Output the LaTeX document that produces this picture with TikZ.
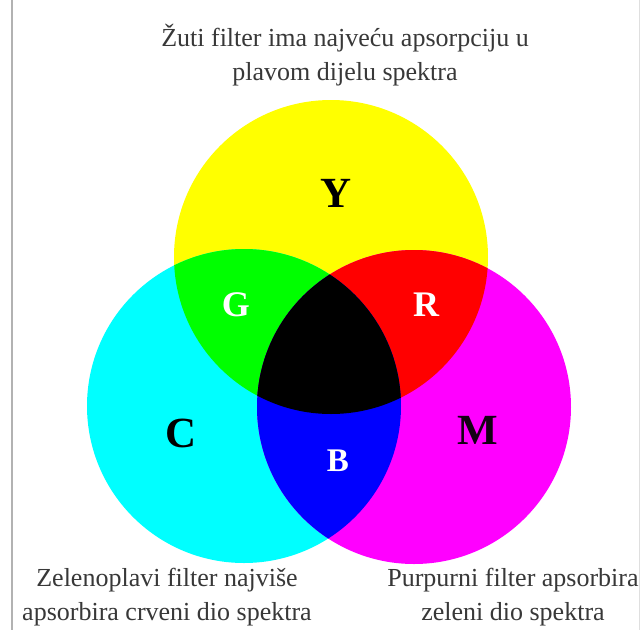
\documentclass[tikz,border=0pt]{standalone}
\usepackage{fontspec}
\setmainfont{Liberation Serif}
\usetikzlibrary{positioning}
\definecolor{filtyellow}{RGB}{255,255,0}
\definecolor{filtcyan}{RGB}{0,255,255}
\definecolor{filtmagenta}{RGB}{255,0,255}
\definecolor{filtgreen}{RGB}{0,255,0}
\definecolor{filtred}{RGB}{255,0,0}
\definecolor{filtblue}{RGB}{0,0,255}

\begin{document}
\begin{tikzpicture}[x=1pt, y=-1pt,
  every node/.style={font=\fontsize{26}{34}\selectfont},
  caption/.style={align=center, inner sep=0pt, text=black!78},
  letter/.style={font=\fontsize{#1}{#1}\selectfont\bfseries, inner sep=0pt},
  disc/.style={fill=#1}]

\useasboundingbox[fill=white] (0,0) rectangle (641,630);
\draw[gray!60, line width=2pt] (12,0) -- (12,630);
\draw[gray!25, line width=1pt] (639.5,0) -- (639.5,630);

\def\rad{157pt}
\coordinate (ycen) at (331,257);
\coordinate (ccen) at (244,406);
\coordinate (mcen) at (414,407);

%% the three filters
\fill[disc=filtyellow]  (ycen) circle[radius=\rad];
\fill[disc=filtcyan]    (ccen) circle[radius=\rad];
\fill[disc=filtmagenta] (mcen) circle[radius=\rad];

%% two filters overlapping
\begin{scope}
  \clip (ycen) circle[radius=\rad];
  \fill[disc=filtgreen] (ccen) circle[radius=\rad];
  \fill[disc=filtred]   (mcen) circle[radius=\rad];
\end{scope}
\begin{scope}
  \clip (ccen) circle[radius=\rad];
  \fill[disc=filtblue] (mcen) circle[radius=\rad];
\end{scope}

%% all three
\begin{scope}
  \clip (ycen) circle[radius=\rad];
  \clip (ccen) circle[radius=\rad];
  \fill[disc=black] (mcen) circle[radius=\rad];
\end{scope}

\node[letter=43]              (ylet) at (336,193) {Y};
\node[letter=36, text=white]  (glet) at (236,305) {G};
\node[letter=36, text=white]  (rlet) at (426,305) {R};
\node[letter=43]              (clet) at (181,433) {C};
\node[letter=43, text=black!92!filtmagenta] (mlet) at (478,430) {M};
\node[letter=33, text=white]  (blet) at (338,461) {B};

\node[caption] (ytxt) at (345,55) {Žuti filter ima najveću apsorpciju u\\plavom dijelu spektra};
\node[caption] (ctxt) at (167,597) {Zelenoplavi filter najviše\\apsorbira crveni dio spektra};
\node[caption] (mtxt) at (513,597) {Purpurni filter apsorbira\\zeleni dio spektra};
\end{tikzpicture}
\end{document}
